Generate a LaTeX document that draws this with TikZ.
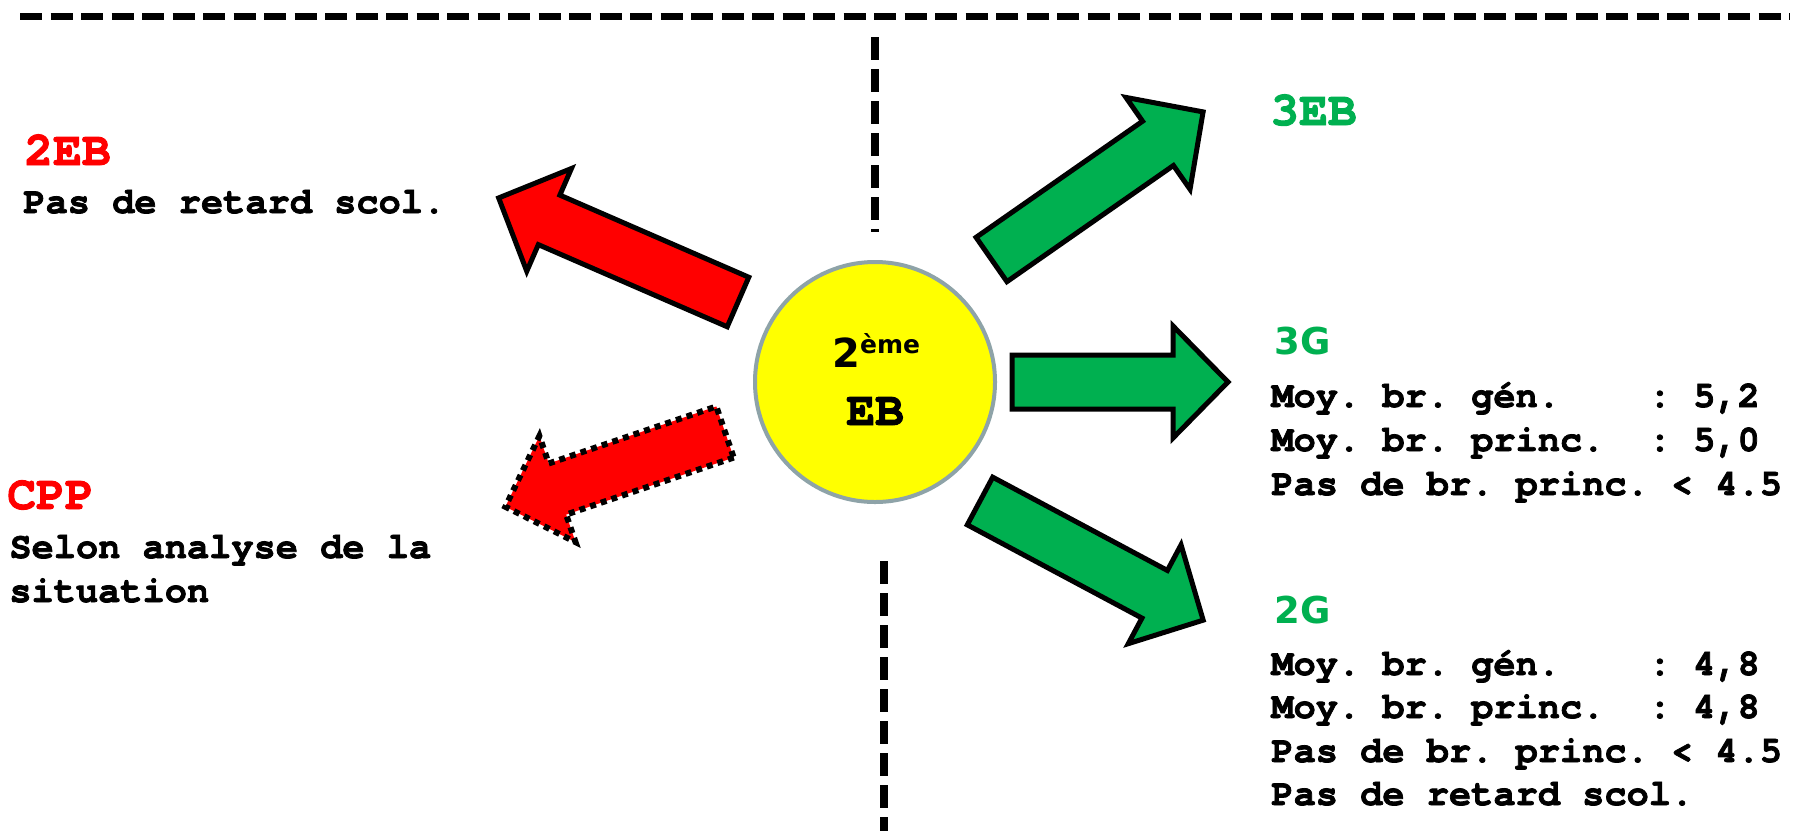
\documentclass[tikz,border=0pt]{standalone}
\usepackage{fontspec}
\setmonofont{TeX Gyre Cursor}[BoldFeatures={FakeBold=2}]
\newfontfamily\dejavu{DejaVu Sans}
\definecolor{ored}{HTML}{FF0000}
\definecolor{ogreen}{HTML}{00B050}
\definecolor{oyellow}{HTML}{FFFF00}
\definecolor{ogrey}{HTML}{8EA3A8}
\newcommand\bodyfont{\fontsize{18.5pt}{21.75pt}\selectfont\ttfamily\bfseries}
\newcommand\headmono{\fontsize{24pt}{24pt}\selectfont\ttfamily\bfseries}
\newcommand\headsans{\fontsize{18.5pt}{18.5pt}\selectfont\dejavu\bfseries}
\newcommand\blockarr[4]{%
  \begin{scope}[shift={(#2)},rotate=#3]
    \draw[#1] (0,-27) -- ({#4-55},-27) -- ({#4-55},-56) -- (#4,0)
      -- ({#4-55},56) -- ({#4-55},27) -- (0,27) -- cycle;
  \end{scope}}
\begin{document}
\begin{tikzpicture}[x=0.5pt,y=-0.5pt,
  txt/.style={inner sep=0pt,anchor=base west},
  body/.style={txt,font=\bodyfont},
  hmono/.style={txt,font=\headmono},
  hsans/.style={txt,font=\headsans},
  sepline/.style={line width=#1,black},
  solidarrow/.style={draw=black,line width=2.5pt,line join=miter,miter limit=10,fill=#1},
  dotarrow/.style={draw=black,line width=3pt,dash pattern=on 3pt off 2.6pt,line join=miter,fill=#1}]
\useasboundingbox (0,0) rectangle (1804,831);
\fill[white] (0,0) rectangle (1804,831);

% separator lines
\coordinate (hl) at (20,16);
\coordinate (hr) at (1790,16);
\coordinate (vt1) at (875,37);
\coordinate (vt2) at (875,232);
\coordinate (vb1) at (884,561);
\coordinate (vb2) at (884,831);
\draw[sepline=3.5pt,dash pattern=on 11pt off 4.25pt] (hl) -- (hr);
\draw[sepline=4pt,dash pattern=on 11.5pt off 4.5pt] (vt1) -- (vt2);
\draw[sepline=4pt,dash pattern=on 11.5pt off 4.5pt] (vb1) -- (vb2);

% centre
\node[circle,draw=ogrey,line width=2pt,fill=oyellow,minimum size=120pt,inner sep=0pt] (c) at (875,382) {};
\node[txt,font=\dejavu\bfseries\fontsize{20pt}{20pt}\selectfont] (c1) at (832,367)
  {2\raisebox{7pt}{\fontsize{12.5pt}{12.5pt}\selectfont ème}};
\node[hmono] (c2) at (846,425) {EB};

% arrows
\blockarr{solidarrow=ored}{738,302}{156.5}{261}
\blockarr{dotarrow=ored}{725,432}{198.8}{232}
\blockarr{solidarrow=ogreen}{991.5,259.5}{34.9}{258}
\blockarr{solidarrow=ogreen}{1012,382}{0}{216}
\blockarr{solidarrow=ogreen}{980,501}{-28.1}{253}

% left texts
\node[hmono,text=ored] (t2eb) at (24,165) {2EB};
\node[body] (t2eb1) at (23,213) {Pas de retard scol.};
\node[hmono,text=ored] (tcpp) at (7,509) {CPP};
\node[body] (tcpp1) at (9,558) {Selon analyse de la};
\node[body] (tcpp2) at (9,602) {situation};

% right texts
\node[hmono,text=ogreen] (t3eb) at (1270,125) {3EB};
\node[hsans,text=ogreen] (t3g) at (1274,354) {3G};
\node[body] (t3g1) at (1271,407) {Moy. br. gén.\hphantom{0000}: 5,2};
\node[body] (t3g2) at (1271,451) {Moy. br. princ.\hphantom{00}: 5,0};
\node[body] (t3g3) at (1271,495) {Pas de br. princ. < 4.5};
\node[hsans,text=ogreen] (t2g) at (1274,623) {2G};
\node[body] (t2g1) at (1271,675) {Moy. br. gén.\hphantom{0000}: 4,8};
\node[body] (t2g2) at (1271,718) {Moy. br. princ.\hphantom{00}: 4,8};
\node[body] (t2g3) at (1271,762) {Pas de br. princ. < 4.5};
\node[body] (t2g4) at (1271,805) {Pas de retard scol.};
\end{tikzpicture}
\end{document}
